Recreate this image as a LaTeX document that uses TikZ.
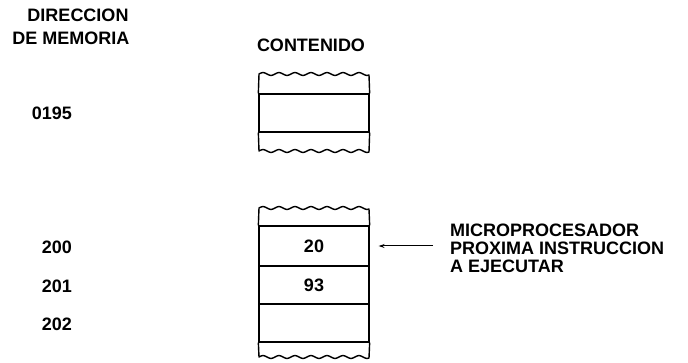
\documentclass[tikz,border=0pt]{standalone}
\usepackage{fontspec}
\setmainfont{Liberation Sans}
\usetikzlibrary{arrows.meta}
\begin{document}
\begin{tikzpicture}[x=1pt,y=-1pt,
  font=\bfseries\fontsize{18}{18}\selectfont,
  lbl/.style={inner sep=0pt},
  cell/.style={draw, line width=1.3pt, minimum width=110pt, inner sep=0pt},
  wavy/.style={line width=1.4pt, line join=round}]
\useasboundingbox (0,0) rectangle (688,363);

% headers
\node[lbl] (h1) at (78,15) {DIRECCION};
\node[lbl] (h2) at (71,38) {DE MEMORIA};
\node[lbl] (h3) at (311,45) {CONTENIDO};

% upper memory block
\node[cell, minimum height=38pt] (m195) at (314,113) {};
\draw[wavy] (m195.north west) -- plot[domain=259:369,samples=90,smooth] (\x,{74-1.4*sin(22.5*(\x-259))}) -- (m195.north east);
\draw[wavy] (m195.south west) -- plot[domain=259:369,samples=90,smooth] (\x,{151-1.4*sin(22.5*(\x-259))}) -- (m195.south east);
\node[lbl, anchor=east] (a0195) at (72,113) {0195};

% lower memory block
\node[cell, minimum height=40pt] (c200) at (314,246) {20};
\node[cell, minimum height=38pt] (c201) at (314,285) {93};
\node[cell, minimum height=38pt] (c202) at (314,323) {};
\draw[wavy] (c200.north west) -- plot[domain=259:369,samples=90,smooth] (\x,{208-1.4*sin(22.5*(\x-259))}) -- (c200.north east);
\draw[wavy] (c202.south west) -- plot[domain=259:369,samples=90,smooth] (\x,{357-1.4*sin(22.5*(\x-259))}) -- (c202.south east);

\node[lbl, anchor=east] (a200) at (72,247) {200};
\node[lbl, anchor=east] (a201) at (72,286) {201};
\node[lbl, anchor=east] (a202) at (72,324) {202};

% pointer
\node[lbl, anchor=west, align=left] (mp) at (450,248) {MICROPROCESADOR\\PROXIMA INSTRUCCION\\A EJECUTAR};
\coordinate (astart) at (433,246);
\draw[line width=1pt, -{Stealth[length=6pt,width=4pt]}] (astart) -- ([xshift=9pt]c200.east);
\end{tikzpicture}
\end{document}
